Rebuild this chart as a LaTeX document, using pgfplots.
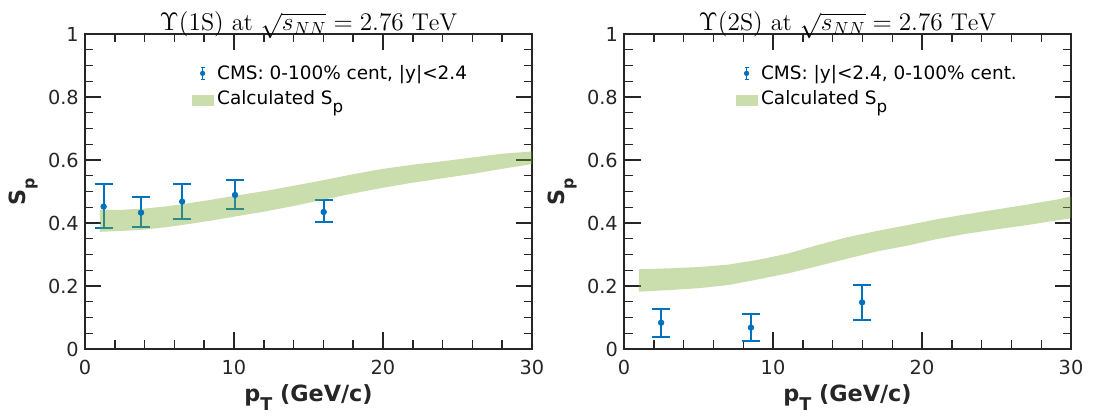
\documentclass[border=0pt]{standalone}
\usepackage{fontspec}
\setsansfont{DejaVu Sans}
\usepackage{pgfplots}
\pgfplotsset{compat=1.18}

\definecolor{cmsblue}{RGB}{0,114,189}
\definecolor{bandgreen}{RGB}{119,172,48}
\definecolor{axgray}{RGB}{38,38,38}

\pgfplotsset{
  spplot/.style={
    scale only axis, width=8.94cm, height=6.3cm,
    xmin=0, xmax=30, ymin=0, ymax=1,
    xtick={0,10,20,30}, ytick={0,0.2,0.4,0.6,0.8,1},
    minor x tick num=4, minor y tick num=3,
    tick align=inside,
    major tick length=0.33cm, minor tick length=0.17cm,
    axis line style={axgray, line width=0.8pt},
    every tick/.style={axgray, line width=0.8pt},
    tick label style={font=\sffamily\fontsize{11}{13}\selectfont, text=axgray},
    /pgf/number format/assume math mode=true,
    xticklabel style={yshift=-0.1cm},
    xlabel={\bfseries p\raisebox{-5pt}{\fontsize{10}{10}\selectfont T} (GeV/c)},
    xlabel style={font=\sffamily\fontsize{12.7}{15}\selectfont, text=axgray,
      at={(axis description cs:0.5,-0.168)}, anchor=base},
    ylabel={\bfseries S\raisebox{-5pt}{\fontsize{9}{10}\selectfont p}},
    ylabel style={font=\sffamily\fontsize{12.7}{15}\selectfont, text=axgray,
      at={(axis description cs:-0.133,0.5)}, anchor=base},
    every axis title shift=0pt,
    title style={font=\fontsize{13.8}{16}\selectfont,
      at={(axis description cs:0.5,1)}, anchor=base, yshift=0.06cm},
    legend style={draw=none, fill=none, anchor=north west,
      font=\sffamily\fontsize{10.5}{12.5}\selectfont, row sep=1pt},
    legend cell align=left,
  },
  cmspts/.style={cmsblue, only marks, mark=*, mark size=1.6pt,
    mark options={line width=0.4pt, fill=cmsblue},
    legend image code/.code={
      \draw[cmsblue, line width=0.9pt] (0.16cm,-0.12cm) -- (0.16cm,0.12cm);
      \draw[cmsblue, line width=0.9pt] (0.12cm,-0.12cm) -- (0.20cm,-0.12cm);
      \draw[cmsblue, line width=0.9pt] (0.12cm,0.12cm) -- (0.20cm,0.12cm);
      \fill[cmsblue] (0.16cm,0cm) circle (0.045cm);},
    error bars/.cd, y dir=both, y explicit,
    error bar style={line width=1.1pt, cmsblue},
    error mark options={rotate=90, mark size=0.18cm, line width=1.1pt, cmsblue}},
  band/.style={draw=none, fill=bandgreen, fill opacity=0.4,
    legend image code/.code={
      \fill[bandgreen, fill opacity=0.4] (-0.06cm,-0.14cm) rectangle (0.38cm,0.08cm);}},
}

\begin{document}
\begin{tikzpicture}
\path[use as bounding box] (-1.70,-1.34) rectangle (20.50,6.98);

\begin{axis}[spplot,
  title={$\Upsilon(1\mathrm{S})$ at $\sqrt{s_{NN}}=2.76~\mathrm{TeV}$},
  legend style={at={(axis description cs:0.226,0.925)}}]
\addplot[cmspts] coordinates {
  (1.25,0.452)  += (0,0.072) -= (0,0.069)
  (3.76,0.433)  += (0,0.049) -= (0,0.045)
  (6.52,0.468)  += (0,0.056) -= (0,0.055)
  (10.07,0.489) += (0,0.047) -= (0,0.046)
  (16.02,0.435) += (0,0.037) -= (0,0.032)
};
\addlegendentry{CMS: 0-100\% cent, |y|<2.4}
\addplot[band] coordinates {
  (1,0.372) (2.5,0.375) (4,0.379) (5.5,0.387) (7,0.397) (8.5,0.408)
  (10,0.420) (12,0.436) (14,0.454) (16,0.474) (18,0.494) (20,0.512)
  (22,0.528) (24,0.542) (26,0.556) (28,0.572) (30,0.587)
  (30,0.627) (28,0.620) (26,0.608) (24,0.596) (22,0.585) (20,0.572)
  (18,0.555) (16,0.536) (14,0.518) (12,0.501) (10,0.486) (8.5,0.474)
  (7,0.463) (5.5,0.453) (4,0.446) (2.5,0.442) (1,0.441)
};
\addlegendentry{Calculated S\raisebox{-4.5pt}{\fontsize{9.5}{10}\selectfont p}}
\end{axis}

\begin{axis}[spplot, at={(10.78cm,0)},
  title={$\Upsilon(2\mathrm{S})$ at $\sqrt{s_{NN}}=2.76~\mathrm{TeV}$},
  legend style={at={(axis description cs:0.237,0.925)}}]
\addplot[cmspts] coordinates {
  (2.49,0.0835) += (0,0.0425) -= (0,0.0445)
  (8.52,0.068)  += (0,0.042) -= (0,0.042)
  (15.98,0.148) += (0,0.056) -= (0,0.057)
};
\addlegendentry{CMS: |y|<2.4, 0-100\% cent.}
\addplot[band] coordinates {
  (1,0.182) (3,0.187) (5,0.193) (7,0.203) (9,0.221) (11,0.240) (13,0.263)
  (15,0.287) (17,0.310) (19,0.328) (21,0.349) (23,0.366) (25,0.380)
  (27,0.393) (29,0.408) (30,0.415)
  (30,0.484) (29,0.474) (27,0.458) (25,0.443) (23,0.428) (21,0.412)
  (19,0.393) (17,0.375) (15,0.355) (13,0.330) (11,0.303) (9,0.283)
  (7,0.268) (5,0.260) (3,0.256) (1,0.253)
};
\addlegendentry{Calculated S\raisebox{-4.5pt}{\fontsize{9.5}{10}\selectfont p}}
\end{axis}
\end{tikzpicture}
\end{document}
